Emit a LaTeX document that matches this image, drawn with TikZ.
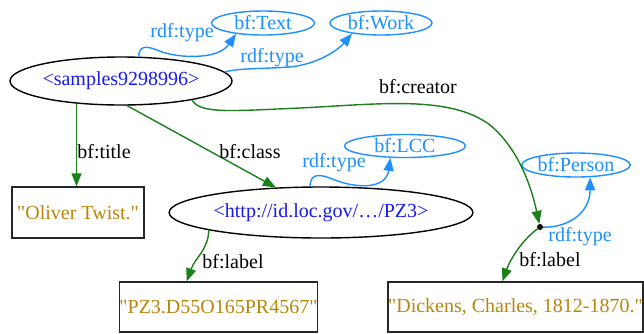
\documentclass[tikz,border=0pt]{standalone}
\usepackage{fontspec}
\setmainfont{Liberation Serif}[Ligatures=TeXOff]
\usetikzlibrary{shapes.geometric,arrows.meta}
\definecolor{uri}{RGB}{25,25,240}
\definecolor{dblue}{RGB}{30,144,255}
\definecolor{fgreen}{RGB}{26,128,26}
\definecolor{lit}{RGB}{184,134,11}
\begin{document}
\begin{tikzpicture}[x=1pt,y=-1pt,font=\fontsize{20}{24}\selectfont,
  res/.style={ellipse,draw,line width=1.4pt,inner sep=0pt,text=uri},
  cls/.style={ellipse,draw=dblue,line width=1.4pt,inner sep=0pt,text=dblue},
  litbox/.style={rectangle,draw=black!85,line width=1.4pt,inner sep=0pt,text=lit},
  gedge/.style={draw=fgreen,line width=1.4pt,-{Triangle[length=13pt,width=10pt]}},
  bedge/.style={draw=dblue,line width=1.4pt,-{Triangle[length=13pt,width=10pt]}},
  glabel/.style={inner sep=0pt,text=black},
  blabel/.style={inner sep=0pt,text=dblue}]
\fill[white] (0,0) rectangle (644,333);
\useasboundingbox (0,0) rectangle (644,333);
% nodes
\node[res,minimum width=222pt,minimum height=48pt] (s) at (121,81) {<samples9298996>};
\node[cls,minimum width=103pt,minimum height=24pt] (text) at (263,23) {bf:Text};
\node[cls,minimum width=102pt,minimum height=24pt] (work) at (381,23) {bf:Work};
\node[litbox,minimum width=132pt,minimum height=51pt] (oliver) at (78,212.5) {"Oliver Twist."};
\node[res,minimum width=302pt,minimum height=51pt] (pz3) at (321,212.5) {<http://id.loc.gov/…/PZ3>};
\node[cls,minimum width=121pt,minimum height=23pt] (lcc) at (405,146) {bf:LCC};
\node[cls,minimum width=102pt,minimum height=24pt] (person) at (576,165) {bf:Person};
\node[circle,fill=black,inner sep=0pt,minimum size=6pt] (dot) at (540,227) {};
\node[litbox,minimum width=163pt,minimum height=50pt] (pzlabel) at (218.5,307) {"PZ3.D55O165PR4567"};
\node[litbox,minimum width=251pt,minimum height=50pt] (dickens) at (515.5,307) {"Dickens, Charles, 1812-1870."};
% blue edges
\draw[bedge] (s.54) .. controls (139,44) and (148,46) .. (162,52)
  .. controls (180,58) and (218,60) .. (text.202);
\node[blabel] (l1) at (182,33) {rdf:type};
\draw[bedge] (s.5) .. controls (240,68) and (260,69) .. (290,67)
  .. controls (318,64) and (338,50) .. (work.200);
\node[blabel] (l2) at (272,58) {rdf:type};
\draw[bedge] (pz3.113) .. controls (311,172) and (320,174) .. (335,180)
  .. controls (355,188) and (386,190) .. (lcc.219);
\node[blabel] (l3) at (334,163) {rdf:type};
\draw[bedge] (dot) .. controls (565,228) and (590,215) .. (person.-41);
\node[blabel] (l4) at (580,237) {rdf:type};
% green edges
\draw[gedge] (s.207) -- (s.207 |- oliver.north);
\node[glabel] (l5) at (104,152) {bf:title};
\draw[gedge] (s.-76) -- (pz3.151);
\node[glabel] (l6) at (250,152) {bf:class};
\draw[gedge] (s.-15) .. controls (200,114) and (230,111) .. (300,108)
  .. controls (380,104) and (450,95) .. (490,125)
  .. controls (520,150) and (532,190) .. (dot);
\node[glabel] (l7) at (418,87) {bf:creator};
\draw[gedge] (pz3.189) .. controls (208,250) and (195,258) .. (pzlabel.141);
\node[glabel] (l8) at (233,262) {bf:label};
\draw[gedge] (dot) .. controls (525,238) and (512,255) .. (dickens.117);
\node[glabel] (l9) at (550,260) {bf:label};
\end{tikzpicture}
\end{document}
